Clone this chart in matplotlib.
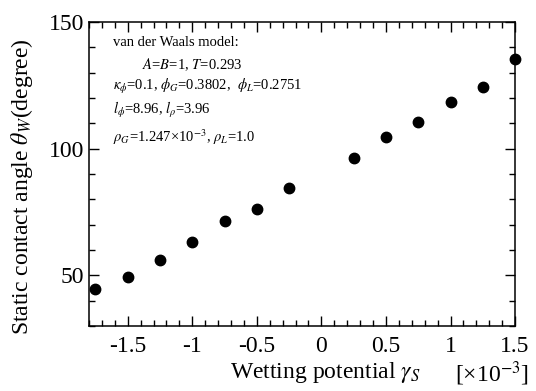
import matplotlib
matplotlib.use("Agg")
import matplotlib.pyplot as plt
from matplotlib.ticker import MultipleLocator, FuncFormatter

plt.rcParams['font.family'] = ['Liberation Serif', 'DejaVu Serif']
plt.rcParams['mathtext.fontset'] = 'stix'
plt.rcParams['axes.unicode_minus'] = False

# wetting potential gamma_S [x1e-3] and static contact angle (degree)
gamma_s = [-1.75, -1.5, -1.25, -1.0, -0.75, -0.5, -0.25, 0.25, 0.5, 0.75, 1.0, 1.25, 1.5]
theta_w = [44.7, 49.2, 56.0, 63.2, 71.4, 76.1, 84.4, 96.3, 104.4, 110.6, 118.4, 124.2, 135.4]

info_lines = [
    "van der Waals model:",
    "$A$=$B$=1, $T$=0.293",
    r"$\kappa_\phi$=0.1, $\phi_G$=0.3802,  $\phi_L$=0.2751",
    r"$l_\phi$=8.96, $l_\rho$=3.96",
    r"$\rho_G$=1.247×10$^{-3}$, $\rho_L$=1.0",
]
info_x = [0.056, 0.124, 0.056, 0.056, 0.056]
info_y = [0.931, 0.859, 0.786, 0.711, 0.622]

fig = plt.figure(figsize=(5.36, 3.91), dpi=100)
ax = fig.add_axes([0.166, 0.166, 0.795, 0.778])

ax.plot(gamma_s, theta_w, 'o', color='black', markersize=7.5, clip_on=False, zorder=3)

ax.set_xlim(-1.8, 1.5)
ax.set_ylim(30, 150)
ax.xaxis.set_major_locator(MultipleLocator(0.5))
ax.xaxis.set_minor_locator(MultipleLocator(0.1))
ax.yaxis.set_major_locator(MultipleLocator(50))
ax.yaxis.set_minor_locator(MultipleLocator(10))
ax.xaxis.set_major_formatter(FuncFormatter(lambda v, p: "%g" % round(v, 2)))

ax.tick_params(which='both', direction='in', top=True, right=True, labelsize=17, width=1.0)
ax.tick_params(which='major', length=7)
ax.tick_params(axis='x', which='major', pad=7)
ax.tick_params(which='minor', length=4)
for s in ax.spines.values():
    s.set_linewidth(1.1)

ax.set_ylabel(r"Static contact angle $\theta_W$(degree)", fontsize=17)
ax.yaxis.set_label_coords(-0.127, 0.46)
ax.set_xlabel(r"Wetting potential $\gamma_S$", fontsize=17)
ax.xaxis.set_label_coords(0.554, -0.11)
ax.text(0.859, -0.11, "[×10$^{-3}$]", transform=ax.transAxes, fontsize=17,
        ha='left', va='top')

for t, x, y in zip(info_lines, info_x, info_y):
    ax.text(x, y, t, transform=ax.transAxes, fontsize=10.5, va='center', ha='left')

fig.savefig("out.png", dpi=100)
